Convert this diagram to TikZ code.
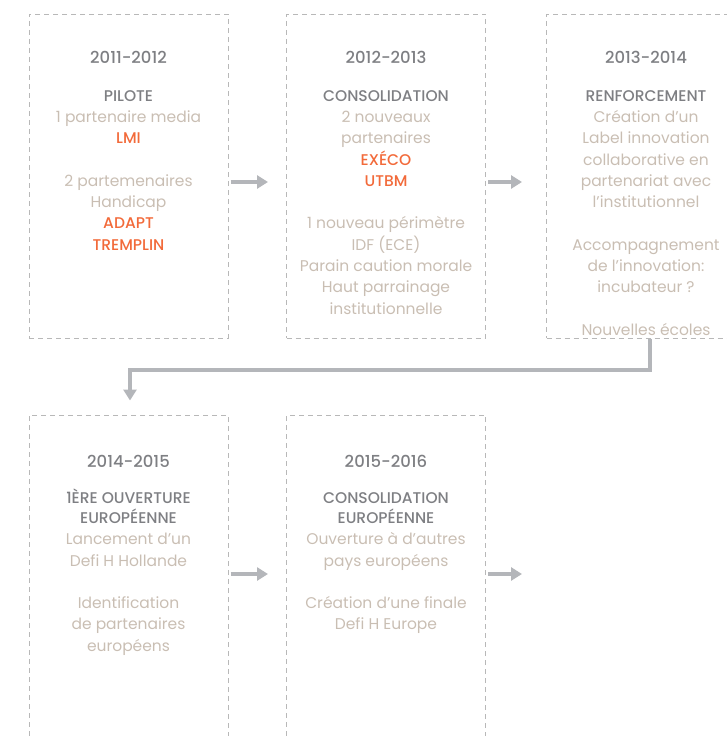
\documentclass[tikz,border=0pt]{standalone}
\usepackage{fontspec}
\setmainfont{Poppins}[BoldFont={Poppins Medium}]
\usepackage{xcolor}
\usetikzlibrary{arrows.meta}

\definecolor{yeargray}{HTML}{7E7F83}
\definecolor{textbeige}{HTML}{C9BEB3}
\definecolor{partorange}{HTML}{F26A3A}
\definecolor{framegray}{HTML}{B8B8B8}
\definecolor{arrowgray}{HTML}{B4B6BA}

\newcommand{\yr}[1]{{\color{yeargray}\bfseries #1}}
\newcommand{\yrbig}[1]{{\color{yeargray}\bfseries\fontsize{16.5}{21.3}\selectfont #1}}
\newcommand{\partner}[1]{{\color{partorange}\bfseries #1}}

\begin{document}
\begin{tikzpicture}[x=1pt, y=-1pt,
    period/.style={draw=framegray, line width=1pt, dash pattern=on 5pt off 4pt,
        minimum width=199pt, minimum height=324pt, inner sep=0pt},
    txt/.style={anchor=north, align=center, text=textbeige,
        font=\fontsize{15.5}{21.3}\selectfont},
    arr/.style={draw=arrowgray, line width=3.5pt,
        -{Triangle[length=11pt, width=13pt]}}]
    \useasboundingbox (0,0) rectangle (726,736);

    \node[period] (p1) at (128.5,176) {};
    \node[period] (p2) at (386,176) {};
    \node[period] (p3) at (646,176) {};
    \node[period, minimum height=330pt] (p4) at (128.5,580) {};
    \node[period, minimum height=330pt] (p5) at (386,580) {};

    \node[txt] (t1) at (128.5,48) {\yrbig{2011-2012}\\[16pt]
        \yr{PILOTE}\\ 1 partenaire media\\ \partner{LMI}\\[21.3pt]
        2 partemenaires\\ Handicap\\ \partner{ADAPT}\\ \partner{TREMPLIN}};
    \node[txt] (t2) at (386,48) {\yrbig{2012-2013}\\[16pt]
        \yr{CONSOLIDATION}\\ 2 nouveaux\\ partenaires\\ \partner{EXÉCO}\\ \partner{UTBM}\\[21.3pt]
        1 nouveau périmètre\\ IDF (ECE)\\ Parain caution morale\\
        Haut parrainage\\ institutionnelle};
    \node[txt] (t3) at (646,48) {\yrbig{2013-2014}\\[16pt]
        \yr{RENFORCEMENT}\\ Création d’un\\ Label innovation\\ collaborative en\\
        partenariat avec\\ l’institutionnel\\[21.3pt]
        Accompagnement\\ de l’innovation:\\ incubateur ?\\[21.3pt]
        Nouvelles écoles};
    \node[txt] (t4) at (128.5,452) {\yrbig{2014-2015}\\[14pt]
        \yr{1ÈRE OUVERTURE}\\[-1pt] \yr{EUROPÉENNE}\\ Lancement d’un\\ Defi H Hollande\\[21.3pt]
        Identification\\ de partenaires\\ européens};
    \node[txt] (t5) at (386,452) {\yrbig{2015-2016}\\[14pt]
        \yr{CONSOLIDATION}\\[-1pt] \yr{EUROPÉENNE}\\ Ouverture à d’autres\\ pays européens\\[21.3pt]
        Création d’une finale\\ Defi H Europe};

    \coordinate (bend) at (130,370);
    \coordinate (next) at (522,574);

    \draw[arr] ([xshift=2pt, yshift=-6pt]p1.east) -- ([xshift=-18pt, yshift=-6pt]p2.west);
    \draw[arr] ([xshift=2pt, yshift=-6pt]p2.east) -- ([xshift=-24pt, yshift=-6pt]p3.west);
    \draw[arr] ([xshift=4pt]p3.south) |- (bend) -- ([xshift=1.5pt, yshift=14pt]p4.north);
    \draw[arr] ([xshift=2pt, yshift=6pt]p4.east) -- ([xshift=-18pt, yshift=6pt]p5.west);
    \draw[arr] ([xshift=2pt]p5.east |- next) -- (next);
\end{tikzpicture}
\end{document}
